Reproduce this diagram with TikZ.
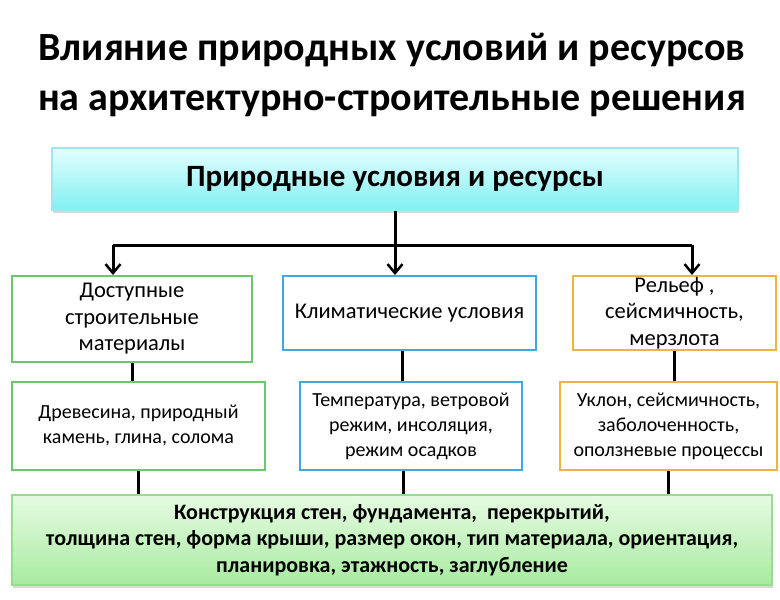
\documentclass[tikz,border=0pt]{standalone}
\usepackage{fontspec}
\setmainfont{Carlito}
\usetikzlibrary{positioning,arrows.meta,shadows}

\definecolor{matgreen}{HTML}{6CC86C}
\definecolor{climblue}{HTML}{3FA9E6}
\definecolor{relorange}{HTML}{EDB43E}
\definecolor{cyantop}{HTML}{E4FEFE}
\definecolor{cyanbot}{HTML}{80F0F2}
\definecolor{cyanline}{HTML}{9FE6EE}
\definecolor{greentop}{HTML}{E6FBE2}
\definecolor{greenbot}{HTML}{A8EBA0}
\definecolor{greenline}{HTML}{98DC90}

\begin{document}
\begin{tikzpicture}[x=1pt,y=1pt,
	box/.style={draw, line width=2pt, fill=white, align=center,
		inner sep=1pt, font=\fontsize{22.5}{26.5}\selectfont},
	bigbox/.style={draw=#1line, line width=1.2pt, align=center,
		top color=#1top, bottom color=#1bot,
		drop shadow={shadow xshift=1pt, shadow yshift=-3pt, opacity=0.3}},
	wire/.style={line width=3pt},
	arr/.style={wire, -{Straight Barb[length=9pt,width=15pt,line width=2.5pt]}}
]
\useasboundingbox (0,0) rectangle (780,-600);

% Title
\node[align=center, font=\fontsize{40}{50}\selectfont\bfseries] (title) at (392,-75)
	{Влияние природных условий и ресурсов\\на архитектурно-строительные решения};

% Top block
\node[bigbox=cyan,
	minimum width=686,
	minimum height=62,
	font=\fontsize{31}{34}\selectfont\bfseries
] (nature) at (395,-179) {Природные условия и ресурсы};

% First row
\node[box, draw=matgreen,
	minimum width=240,
	minimum height=86
] (mat) at (132,-319) {Доступные\\строительные\\материалы};

\node[box, draw=climblue,
	minimum width=253,
	minimum height=74
] (clim) at (409.5,-313) {Климатические условия};

\node[box, draw=relorange,
	minimum width=203,
	minimum height=74
] (relief) at (674.5,-313) {Рельеф ,\\сейсмичность,\\мерзлота};

% Second row
\node[box, draw=matgreen,
	minimum width=253,
	minimum height=88,
	font=\fontsize{20}{25}\selectfont
] (matx) at (138.5,-426) {Древесина, природный\\камень, глина, солома};

\node[box, draw=climblue,
	minimum width=222,
	minimum height=88,
	font=\fontsize{20}{25}\selectfont
] (climx) at (411,-426) {Температура, ветровой\\режим, инсоляция,\\режим осадков};

\node[box, draw=relorange,
	minimum width=217,
	minimum height=88,
	font=\fontsize{20}{25}\selectfont
] (reliefx) at (668.5,-426) {Уклон, сейсмичность,\\заболоченность,\\оползневые процессы};

% Bottom block
\node[bigbox=green,
	minimum width=760,
	minimum height=90,
	font=\fontsize{22}{26.5}\selectfont\bfseries
] (result) at (392,-540)
	{Конструкция стен, фундамента,\ \ перекрытий,\\толщина стен, форма крыши, размер окон, тип материала, ориентация,\\планировка, этажность, заглубление};

% Connectors
\coordinate (busL) at (113,-245);
\coordinate (busR) at (692,-245);

\draw[wire] (busL) -- (busR);
\draw[arr] (nature.south) -- (nature.south |- clim.north);
\draw[arr] (busL) -- (busL |- mat.north);
\draw[arr] (busR) -- (busR |- relief.north);

\draw[wire] (mat.south) -- (mat.south |- matx.north);
\draw[wire] ([xshift=-7pt]clim.south) -- ([xshift=-7pt]clim.south |- climx.north);
\draw[wire] (relief.south) -- (relief.south |- reliefx.north);

\draw[wire] (matx.south) -- (matx.south |- result.north);
\draw[wire] ([xshift=-8pt]climx.south) -- ([xshift=-8pt]climx.south |- result.north);
\draw[wire] (reliefx.south) -- (reliefx.south |- result.north);

\end{tikzpicture}
\end{document}
